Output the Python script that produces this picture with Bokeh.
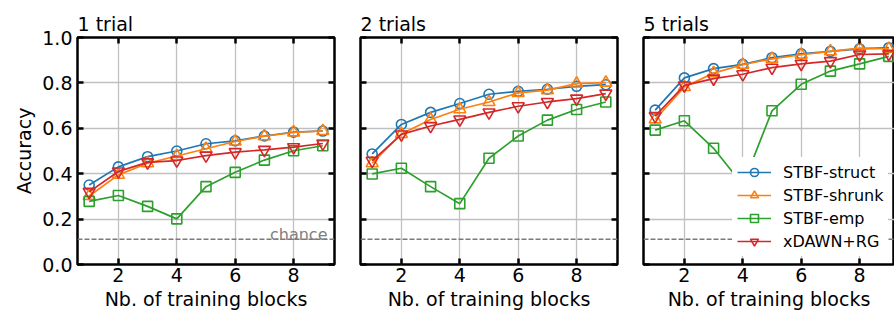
from bokeh.plotting import figure
from bokeh.layouts import row
from bokeh.models import Span, Label, FixedTicker, Range1d, LinearAxis, Legend
from bokeh.embed import file_html
from bokeh.resources import INLINE

# ---------------- data ----------------
blocks = [1, 2, 3, 4, 5, 6, 7, 8, 9]

struct_1 = [0.350, 0.430, 0.475, 0.500, 0.532, 0.545, 0.566, 0.583, 0.588]
shrunk_1 = [0.302, 0.395, 0.446, 0.478, 0.510, 0.542, 0.565, 0.582, 0.588]
emp_1 = [0.278, 0.304, 0.256, 0.201, 0.343, 0.406, 0.460, 0.501, 0.523]
xdawn_1 = [0.320, 0.410, 0.450, 0.458, 0.480, 0.495, 0.505, 0.517, 0.533]

struct_2 = [0.487, 0.617, 0.670, 0.709, 0.750, 0.763, 0.772, 0.785, 0.792]
shrunk_2 = [0.446, 0.575, 0.639, 0.684, 0.716, 0.756, 0.768, 0.797, 0.801]
emp_2 = [0.399, 0.424, 0.343, 0.268, 0.468, 0.566, 0.636, 0.683, 0.716]
xdawn_2 = [0.457, 0.573, 0.610, 0.639, 0.670, 0.697, 0.716, 0.731, 0.753]

struct_5 = [0.680, 0.822, 0.863, 0.882, 0.911, 0.928, 0.939, 0.950, 0.955]
shrunk_5 = [0.639, 0.782, 0.843, 0.880, 0.906, 0.924, 0.939, 0.953, 0.950]
emp_5 = [0.592, 0.633, 0.512, 0.350, 0.677, 0.794, 0.852, 0.884, 0.917]
xdawn_5 = [0.654, 0.789, 0.819, 0.838, 0.867, 0.884, 0.896, 0.925, 0.928]

titles = ["1 trial", "2 trials", "5 trials"]
series_names = ["STBF-struct", "STBF-shrunk", "STBF-emp", "xDAWN+RG"]
x_ticks = [2, 4, 6, 8]
x_tick_labels = ["2", "4", "6", "8"]
y_ticks = [0.0, 0.2, 0.4, 0.6, 0.8, 1.0]
y_tick_labels = ["0.0", "0.2", "0.4", "0.6", "0.8", "1.0"]
chance_level = 1.0 / 9.0
chance_text = "chance"
x_label = "Nb. of training blocks"
y_label = "Accuracy"

panels = [
    [struct_1, shrunk_1, emp_1, xdawn_1],
    [struct_2, shrunk_2, emp_2, xdawn_2],
    [struct_5, shrunk_5, emp_5, xdawn_5],
]

# ---------------- style ----------------
FONT = "DejaVu Sans"
BIG = "19px"
SMALL = "16px"
COLORS = ["#1f77b4", "#ff7f0e", "#2ca02c", "#d62728"]
MARKERS = ["circle", "triangle", "square", "inverted_triangle"]
SIZES = [10, 12, 10, 12]
FRAME_W = 257
FRAME_H = 227
X0, X1 = 0.6, 9.4


def style_axis(ax, ticks, labels, show):
    ax.ticker = FixedTicker(ticks=ticks)
    ax.axis_line_color = None
    ax.major_tick_in = 6
    ax.major_tick_out = 0
    ax.major_tick_line_width = 2.5
    ax.major_tick_line_color = "black"
    ax.minor_tick_line_color = None
    ax.major_label_text_font = FONT
    ax.major_label_text_color = "black"
    ax.axis_label_text_color = "black"
    if show:
        ax.major_label_overrides = {t: l for t, l in zip(ticks, labels)}
        ax.major_label_text_font_size = BIG
    else:
        ax.major_label_overrides = {t: "" for t in ticks}
        ax.major_label_text_font_size = "0px"
        ax.major_label_standoff = 0


def make_panel(idx, frame_w, min_left, min_right):
    x_end = X0 + frame_w * (X1 - X0) / FRAME_W
    p = figure(
        frame_width=frame_w, frame_height=FRAME_H,
        x_range=Range1d(X0, x_end), y_range=Range1d(0, 1),
        output_backend="svg", toolbar_location=None,
        min_border_left=min_left, min_border_right=min_right,
        min_border_top=37, min_border_bottom=48,
    )
    p.background_fill_color = "white"
    p.border_fill_color = "white"
    p.outline_line_color = "black"
    p.outline_line_width = 2.5
    p.outline_line_alpha = 1.0

    p.title.text = titles[idx]
    p.title.text_font = FONT
    p.title.text_font_size = BIG
    p.title.text_font_style = "normal"
    p.title.text_color = "black"
    p.title.align = "left"
    p.title.standoff = 5
    p.title.offset = 0

    # axes
    xax = p.xaxis[0]
    style_axis(xax, x_ticks, x_tick_labels, True)
    xax.major_label_standoff = 3
    xax.axis_label = x_label
    xax.axis_label_text_font = FONT
    xax.axis_label_text_font_size = BIG
    xax.axis_label_text_font_style = "normal"
    xax.axis_label_standoff = 3

    yax = p.yaxis[0]
    style_axis(yax, y_ticks, y_tick_labels, idx == 0)
    if idx == 0:
        yax.major_label_standoff = 5
        yax.axis_label = y_label
        yax.axis_label_text_font = FONT
        yax.axis_label_text_font_size = BIG
        yax.axis_label_text_font_style = "normal"
        yax.axis_label_standoff = 4

    top = LinearAxis()
    style_axis(top, x_ticks, x_tick_labels, False)
    p.add_layout(top, "above")
    if idx < 2:
        right = LinearAxis()
        style_axis(right, y_ticks, y_tick_labels, False)
        p.add_layout(right, "right")

    # grid
    p.xgrid.ticker = FixedTicker(ticks=x_ticks)
    p.ygrid.ticker = FixedTicker(ticks=y_ticks)
    for g in (p.xgrid[0], p.ygrid[0]):
        g.grid_line_color = "#c0c0c0"
        g.grid_line_width = 1.3

    # chance line
    p.add_layout(Span(location=chance_level, dimension="width",
                      line_color="#7a7a7a", line_width=1.4,
                      line_dash="5 2", level="underlay"))
    if idx == 0:
        p.add_layout(Label(x=X1, y=chance_level, x_offset=-7, y_offset=5,
                           text=chance_text, text_font=FONT,
                           text_font_size=SMALL, text_color="#808080",
                           text_align="right", text_baseline="alphabetic"))

    items = []
    for k, ys in enumerate(panels[idx]):
        r1 = p.line(blocks, ys, line_color=COLORS[k], line_width=1.7)
        r2 = p.scatter(blocks, ys, marker=MARKERS[k], size=SIZES[k],
                       line_color=COLORS[k], line_width=1.6,
                       fill_color=None)
        items.append((series_names[k], [r1, r2]))

    if idx == 2:
        leg = Legend(items=items, location=(89, 8))
        leg.label_text_font = FONT
        leg.label_text_font_size = SMALL
        leg.label_text_color = "black"
        leg.background_fill_color = "white"
        leg.background_fill_alpha = 1.0
        leg.border_line_alpha = 0
        leg.glyph_width = 34
        leg.glyph_height = 20
        leg.label_height = 20
        leg.label_standoff = 12
        leg.spacing = 3
        leg.padding = 5
        leg.margin = 0
        p.add_layout(leg, "center")
    return p


p1 = make_panel(0, FRAME_W, 77, 12)
p2 = make_panel(1, FRAME_W, 14, 12)
p3 = make_panel(2, 251, 14, 0)

layout = row(p1, p2, p3, spacing=0)

open("out.html", "w").write(file_html(layout, INLINE))
